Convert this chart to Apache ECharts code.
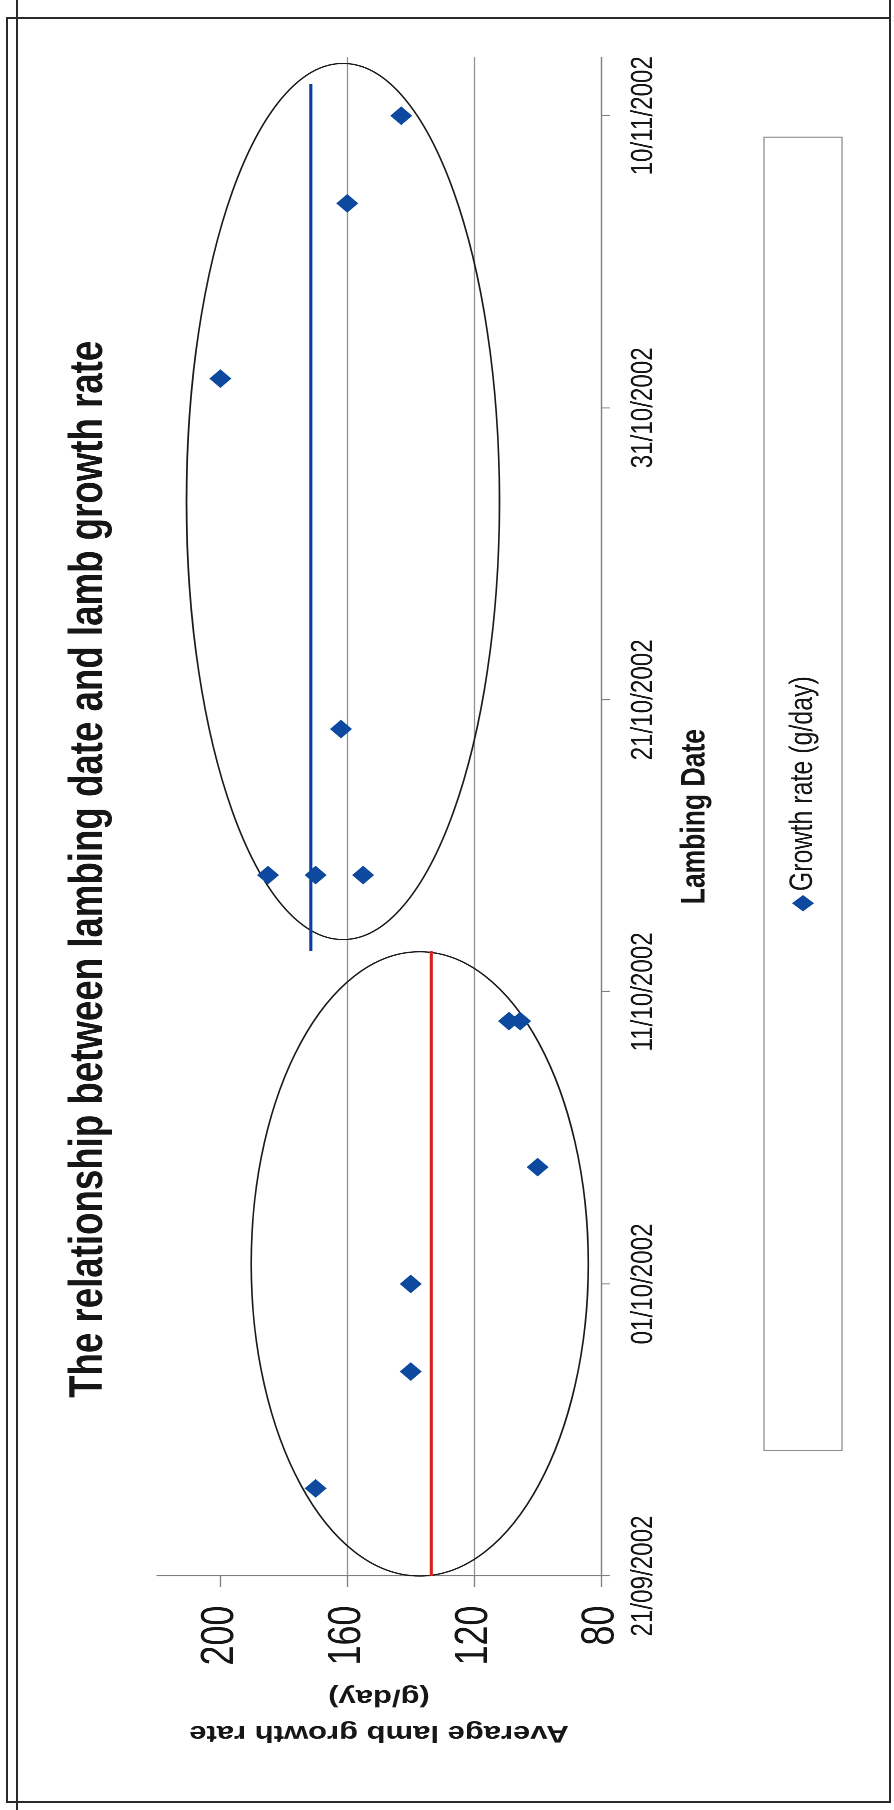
<!DOCTYPE html>
<html>
<head>
<meta charset="utf-8">
<title>Lambing date and lamb growth rate</title>
<script src="https://cdn.jsdelivr.net/npm/echarts@6/dist/echarts.min.js"></script>
<style>
  html, body { margin: 0; padding: 0; background: #fff; }
  #page { position: relative; width: 894px; height: 1810px; overflow: hidden; background: #fff; }
  /* The chart is laid out landscape, narrowed along its width and turned a quarter turn to fit the portrait page */
  #chart { position: absolute; left: 0; top: 0; width: 2320px; height: 894px;
           transform-origin: 0 0; transform: translateY(1810px) rotate(-90deg) scaleX(0.78); }
  .rule { position: absolute; background: #2a2a2a; }
</style>
</head>
<body>
<div id="page">
  <div id="chart"></div>
  <div class="rule" style="left:6px;top:17px;width:2px;height:1786px"></div>
  <div class="rule" style="left:16px;top:0;width:2px;height:1810px"></div>
  <div class="rule" style="left:6px;top:17px;width:885px;height:2px"></div>
  <div class="rule" style="left:889px;top:0;width:2px;height:1803px"></div>
  <div class="rule" style="left:6px;top:1801px;width:885px;height:2px"></div>
</div>
<script>
// Axis ticks
const dateTickLabels = ['21/09/2002', '01/10/2002', '11/10/2002', '21/10/2002', '31/10/2002', '10/11/2002'];
const valueTicks = [80, 120, 160, 200];
const axisStart = '21/09/2002';
const axisEnd = '12/11/2002';
const rateMin = 80;
const rateMax = 220;

// Lambs born in the early group
const earlyDates = ['24/09/2002', '28/09/2002', '01/10/2002', '05/10/2002', '10/10/2002', '10/10/2002'];
const earlyRates = [170, 140, 140, 100, 109, 105.5];

// Lambs born in the late group
const lateDates = ['15/10/2002', '15/10/2002', '15/10/2002', '20/10/2002', '01/11/2002', '07/11/2002', '10/11/2002'];
const lateRates = [185, 170, 155, 162, 200, 160, 143];

// Group average lines
const earlyMeanDates = ['21/09/2002 00:00', '12/10/2002 09:30'];
const earlyMean = 133.5;
const lateMeanDates = ['12/10/2002 09:30', '11/11/2002 02:00'];
const lateMean = 171.5;

// Outline around each group: date span and rate span
const earlyGroupDates = ['21/09/2002 00:00', '12/10/2002 09:00'];
const earlyGroupRates = [84, 190.3];
const lateGroupDates = ['12/10/2002 19:00', '11/11/2002 19:00'];
const lateGroupRates = [112, 210.7];

const FONT = '"Liberation Sans", Arial, Helvetica, sans-serif';
const SERIES_NAME = 'Growth rate (g/day)';

// Days elapsed since the first date on the axis ('dd/mm/yyyy' or 'dd/mm/yyyy hh:mm')
function toUtc(str) {
  const [datePart, timePart] = str.split(' ');
  const [d, m, y] = datePart.split('/').map(Number);
  let hh = 0, mm = 0;
  if (timePart) { [hh, mm] = timePart.split(':').map(Number); }
  return Date.UTC(y, m - 1, d, hh, mm);
}
const ORIGIN = toUtc(axisStart);
function dayOf(str) { return (toUtc(str) - ORIGIN) / 86400000; }

const dateTickValues = dateTickLabels.map(dayOf);

const points = earlyDates.map((d, i) => [dayOf(d), earlyRates[i]])
  .concat(lateDates.map((d, i) => [dayOf(d), lateRates[i]]));

const groups = [
  [dayOf(earlyGroupDates[0]), dayOf(earlyGroupDates[1]), earlyGroupRates[0], earlyGroupRates[1]],
  [dayOf(lateGroupDates[0]), dayOf(lateGroupDates[1]), lateGroupRates[0], lateGroupRates[1]]
];

const chart = echarts.init(document.getElementById('chart'), null, { renderer: 'canvas', devicePixelRatio: 2 });

chart.setOption({
  animation: false,
  backgroundColor: 'transparent',
  textStyle: { fontFamily: FONT },
  graphic: [{
    type: 'text',
    x: 1206,
    y: 89,
    style: {
      text: 'The relationship between lambing date and lamb growth rate',
      fontSize: 47,
      fontWeight: 'bold',
      fontFamily: FONT,
      fill: '#161616',
      align: 'center',
      verticalAlign: 'middle'
    }
  }],
  legend: {
    data: [SERIES_NAME],
    left: 461,
    top: 764,
    orient: 'horizontal',
    padding: [23, 691],
    borderColor: '#8c8c8c',
    borderWidth: 1.2,
    itemWidth: 21,
    itemHeight: 22,
    itemStyle: { opacity: 1 },
    textStyle: { fontSize: 32, color: '#161616', fontFamily: FONT, lineHeight: 32 }
  },
  grid: {
    left: 300,
    right: 73,
    top: 157,
    bottom: 293,
    containLabel: false,
    outerBoundsMode: 'none'
  },
  xAxis: {
    type: 'value',
    min: dayOf(axisStart),
    max: dayOf(axisEnd),
    interval: 10,
    name: 'Lambing Date',
    nameLocation: 'middle',
    nameGap: 77,
    nameTextStyle: { fontSize: 34, fontWeight: 'bold', color: '#161616', fontFamily: FONT },
    axisLine: { show: true, lineStyle: { color: '#7f7f7f', width: 1.3 } },
    axisTick: { show: true, inside: false, length: 9, customValues: dateTickValues,
                lineStyle: { color: '#7f7f7f', width: 1.3 } },
    axisLabel: {
      customValues: dateTickValues,
      fontSize: 31,
      margin: 27,
      color: '#161616',
      fontFamily: FONT,
      formatter: (v) => {
        const i = dateTickValues.indexOf(v);
        return i >= 0 ? dateTickLabels[i] : '';
      }
    },
    splitLine: { show: false }
  },
  yAxis: {
    type: 'value',
    min: rateMin,
    max: rateMax,
    interval: 40,
    name: 'Average lamb growth rate\n(g/day)',
    nameLocation: 'middle',
    nameRotate: 90,
    nameGap: 132,
    nameTextStyle: { fontSize: 31, fontWeight: 'bold', color: '#161616', lineHeight: 46, fontFamily: FONT },
    axisLine: { show: true, lineStyle: { color: '#7f7f7f', width: 1.3 } },
    axisTick: { show: true, inside: false, length: 14, customValues: valueTicks,
                lineStyle: { color: '#7f7f7f', width: 1.3 } },
    axisLabel: { customValues: valueTicks, fontSize: 46, margin: 38, color: '#161616', fontFamily: FONT },
    splitLine: { show: true, showMinLine: true, showMaxLine: false, lineStyle: { color: '#8f8f8f', width: 1.2 } }
  },
  series: [
    {
      type: 'custom',
      name: 'groups',
      silent: true,
      clip: false,
      z: 1,
      encode: { x: [0, 1], y: [2, 3] },
      data: groups,
      renderItem: (params, api) => {
        const p0 = api.coord([api.value(0), api.value(2)]);
        const p1 = api.coord([api.value(1), api.value(3)]);
        return {
          type: 'ellipse',
          shape: {
            cx: (p0[0] + p1[0]) / 2,
            cy: (p0[1] + p1[1]) / 2,
            rx: Math.abs(p1[0] - p0[0]) / 2,
            ry: Math.abs(p1[1] - p0[1]) / 2
          },
          style: { fill: 'none', stroke: '#1a1a1a', lineWidth: 1.7 }
        };
      }
    },
    {
      type: 'line',
      name: 'early mean',
      silent: true,
      z: 2,
      symbol: 'none',
      lineStyle: { color: '#d6251d', width: 3.2 },
      data: earlyMeanDates.map(d => [dayOf(d), earlyMean])
    },
    {
      type: 'line',
      name: 'late mean',
      silent: true,
      z: 2,
      symbol: 'none',
      lineStyle: { color: '#0b3f9f', width: 3.2 },
      data: lateMeanDates.map(d => [dayOf(d), lateMean])
    },
    {
      type: 'scatter',
      name: SERIES_NAME,
      z: 3,
      symbol: 'diamond',
      symbolSize: [24, 22],
      itemStyle: { color: '#0d4a9f', opacity: 1 },
      data: points
    }
  ]
});
</script>
</body>
</html>
